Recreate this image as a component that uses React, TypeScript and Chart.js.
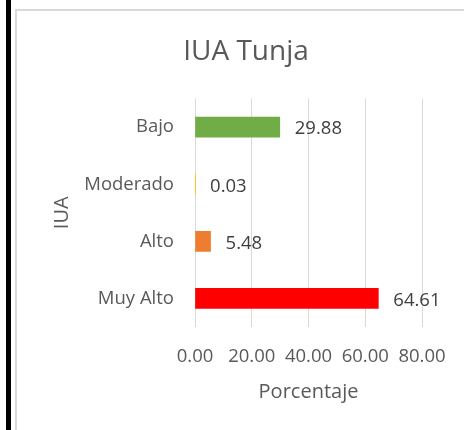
import React, { useEffect, useRef } from "react";
import { Chart, registerables } from "chart.js";

Chart.register(...registerables);

const categories = ["Bajo", "Moderado", "Alto", "Muy Alto"];
const values = [29.88, 0.03, 5.48, 64.61];
const barColors = ["#70ad47", "#ffc000", "#ed7d31", "#ff0000"];
const xTicks = [0, 20, 40, 60, 80];
const chartTitle = "IUA Tunja";
const xTitle = "Porcentaje";
const yTitle = "IUA";

const FONT = "'Open Sans', sans-serif";

const valueLabels = {
  id: "valueLabels",
  afterDatasetsDraw(chart: any) {
    const ctx = chart.ctx;
    const meta = chart.getDatasetMeta(0);
    ctx.save();
    ctx.font = `18.5px ${FONT}`;
    ctx.fillStyle = "#404040";
    ctx.textAlign = "left";
    ctx.textBaseline = "middle";
    meta.data.forEach((bar: any, i: number) => {
      ctx.fillText(values[i].toFixed(2), bar.x + 15, bar.y + 2);
    });
    ctx.restore();
  },
};

export default function App() {
  const ref = useRef<HTMLCanvasElement | null>(null);
  useEffect(() => {
    if (!ref.current) return;
    const chart = new Chart(ref.current, {
      type: "bar",
      data: {
        labels: categories,
        datasets: [
          {
            data: values,
            backgroundColor: barColors,
            barThickness: 20,
            yAxisID: "y",
            xAxisID: "x",
          },
        ],
      },
      options: {
        indexAxis: "y",
        animation: false,
        responsive: false,
        maintainAspectRatio: false,
        layout: { padding: 0 },
        plugins: {
          legend: { display: false },
          tooltip: { enabled: false },
          title: {
            display: true,
            text: chartTitle,
            color: "#595959",
            font: { family: FONT, size: 28, weight: "normal" },
            padding: { top: 24, bottom: 30 },
          },
        },
        scales: {
          x: {
            min: 0,
            max: 80,
            afterBuildTicks: (axis: any) => {
              axis.ticks = xTicks.map((v) => ({ value: v }));
            },
            afterFit: (axis: any) => {
              axis.height = 103;
            },
            ticks: {
              color: "#595959",
              font: { family: FONT, size: 18.5 },
              padding: 19,
              maxRotation: 0,
              autoSkip: false,
              callback: (v: any) => Number(v).toFixed(2),
            },
            grid: { color: "#d9d9d9", lineWidth: 1, drawTicks: false },
            border: { display: false },
            title: {
              display: true,
              text: xTitle,
              color: "#595959",
              font: { family: FONT, size: 20 },
              padding: { top: 0, bottom: 26 },
            },
          },
          y: {
            position: "left",
            afterFit: (axis: any) => {
              axis.width = 178;
            },
            ticks: {
              color: "#595959",
              font: { family: FONT, size: 18.5 },
              padding: 21,
            },
            grid: { display: false, drawTicks: false },
            border: { display: false },
            title: {
              display: true,
              text: yTitle,
              color: "#595959",
              font: { family: FONT, size: 20 },
              padding: { top: 33, bottom: 0 },
            },
          },
          yRight: {
            type: "category",
            position: "right",
            display: true,
            afterFit: (axis: any) => {
              axis.width = 53;
            },
            ticks: { display: false },
            grid: { display: false, drawTicks: false },
            border: { display: false },
          },
        },
      },
      plugins: [valueLabels],
    });
    return () => chart.destroy();
  }, []);

  return (
    <div
      style={{
        position: "fixed",
        left: 0,
        top: 0,
        width: 464,
        height: 430,
        overflow: "hidden",
        background: "#ffffff",
      }}
    >
      <div
        style={{
          position: "absolute",
          left: 6,
          top: 0,
          width: 5,
          height: 430,
          background: "#000000",
        }}
      />
      <div
        style={{
          position: "absolute",
          left: 15,
          top: 9,
          width: 500,
          height: 500,
          borderTop: "2px solid #d9d9d9",
          borderLeft: "2px solid #d9d9d9",
        }}
      />
      <canvas
        ref={ref}
        width={458}
        height={419}
        style={{ position: "absolute", left: 17, top: 11, width: 458, height: 419 }}
      />
    </div>
  );
}
